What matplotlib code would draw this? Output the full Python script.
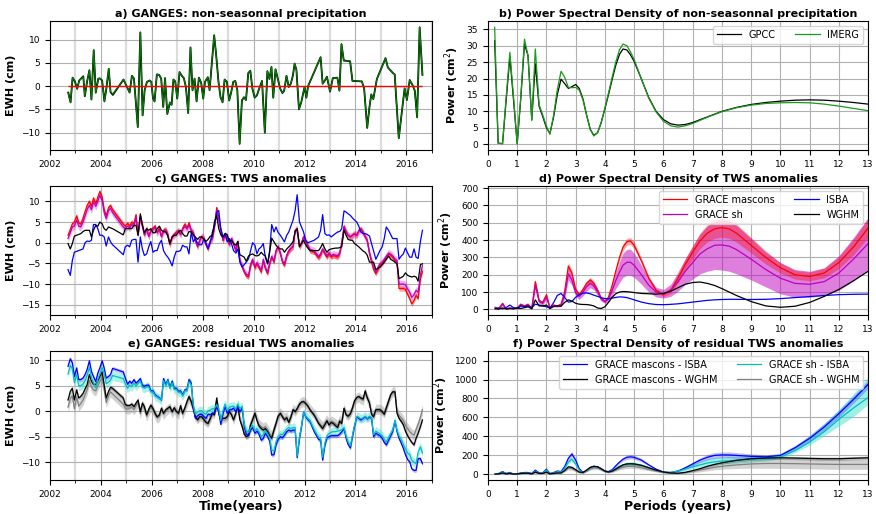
import numpy as np
import matplotlib
matplotlib.use("Agg")
import matplotlib.pyplot as plt
from matplotlib.ticker import MultipleLocator

# ---- monthly precipitation anomalies (cm EWH) ----
t_precip = [2002.72, 2002.81, 2002.89, 2002.98, 2003.07, 2003.15, 2003.31, 2003.37, 2003.46, 2003.55,
            2003.63, 2003.72, 2003.80, 2003.90, 2003.97, 2004.05, 2004.14, 2004.22, 2004.31, 2004.38,
            2004.47, 2004.89, 2005.13, 2005.22, 2005.30, 2005.45, 2005.55, 2005.64, 2005.72, 2005.81,
            2005.92, 2005.98, 2006.05, 2006.11, 2006.20, 2006.29, 2006.37, 2006.45, 2006.52, 2006.61,
            2006.71, 2006.78, 2006.85, 2006.92, 2007.00, 2007.09, 2007.18, 2007.26, 2007.34, 2007.43,
            2007.52, 2007.60, 2007.68, 2007.76, 2007.85, 2007.94, 2008.02, 2008.09, 2008.20, 2008.27,
            2008.45, 2008.53, 2008.62, 2008.70, 2008.78, 2008.86, 2008.95, 2009.04, 2009.12, 2009.20,
            2009.28, 2009.36, 2009.45, 2009.54, 2009.62, 2009.70, 2009.79, 2009.87, 2009.95, 2010.04,
            2010.13, 2010.22, 2010.33, 2010.44, 2010.54, 2010.62, 2010.70, 2010.77, 2010.86, 2010.95,
            2011.04, 2011.13, 2011.20, 2011.29, 2011.38, 2011.46, 2011.54, 2011.61, 2011.68, 2011.78,
            2011.87, 2012.00, 2012.07, 2012.14, 2012.63, 2012.71, 2012.80, 2012.88, 2013.00, 2013.11,
            2013.29, 2013.37, 2013.45, 2013.54, 2013.79, 2013.88, 2014.25, 2014.34, 2014.46, 2014.55,
            2014.62, 2014.70, 2014.84, 2015.18, 2015.27, 2015.47, 2015.54, 2015.70, 2015.93, 2016.02,
            2016.13, 2016.26, 2016.33, 2016.42, 2016.52, 2016.63]
precip_gpcc = [-1.4, -3.5, 1.8, 1.0, -0.6, 1.2, 2.1, -2.2, 1.0, 3.4,
               -2.9, 7.7, -1.4, 1.6, 1.6, 1.2, -3.3, -0.4, 3.7, -1.3,
               -1.9, 1.4, -1.4, 2.2, 1.6, -8.8, 11.5, -6.3, -0.9, 0.9,
               1.2, 0.9, -2.7, -3.3, 2.5, 2.4, 1.6, -4.5, 1.7, -6.0,
               -3.6, -4.0, 1.4, 1.0, -2.7, 3.0, 2.2, 1.7, -0.2, -5.8,
               8.3, -0.9, 1.6, -3.3, 1.8, 0.7, -2.7, 0.9, 1.9, -0.9,
               10.9, 6.6, 0.9, -2.4, -3.5, 1.4, 0.9, -3.1, -1.3, 0.9,
               1.1, -0.9, -12.4, -3.1, -2.4, -3.0, 2.8, 3.3, -0.5, -2.5,
               -2.0, -0.5, 1.1, -10.0, 3.2, 1.5, 4.1, -2.5, 3.6, 1.5,
               -0.5, -1.5, -1.0, 2.2, -0.2, 0.5, 2.2, 4.8, 3.5, -5.0,
               -3.5, -0.2, -2.5, 0.0, 6.2, 0.5, 1.2, 2.0, -1.2, 1.7,
               1.8, -1.0, 9.0, 5.5, 5.3, 1.1, 1.0, -0.5, -9.0, -4.5,
               -1.8, -2.8, 1.5, 6.0, 4.0, 2.8, 2.5, -11.2, -0.5, -3.0,
               1.3, 0.0, -1.0, -6.7, 12.6, 2.4]
precip_imerg = [-1.5, -3.5, 1.8, 1.1, -0.6, 1.2, 2.0, -2.2, 1.0, 3.4,
                -2.9, 7.8, -1.5, 1.6, 1.7, 1.2, -3.3, -0.4, 3.8, -1.2,
                -1.7, 1.4, -1.4, 2.2, 1.6, -8.9, 11.6, -6.3, -0.9, 0.9,
                1.2, 0.9, -2.7, -3.4, 2.5, 2.4, 1.6, -4.5, 1.7, -6.0,
                -3.4, -4.1, 1.4, 1.0, -2.7, 3.0, 2.2, 1.7, -0.2, -5.9,
                8.3, -0.9, 1.6, -3.3, 1.8, 0.7, -2.7, 0.9, 1.9, -0.9,
                11.0, 6.6, 0.9, -2.4, -3.5, 1.4, 0.9, -3.1, -1.3, 0.9,
                1.1, -0.9, -12.5, -3.0, -2.4, -3.0, 2.8, 3.3, -0.5, -2.5,
                -2.0, -0.5, 1.1, -10.1, 3.2, 1.5, 4.1, -2.5, 3.6, 1.5,
                -0.5, -1.5, -1.0, 2.2, -0.2, 0.5, 2.2, 4.9, 3.5, -5.0,
                -3.5, -0.2, -2.5, 0.0, 6.2, 0.5, 1.2, 2.0, -1.2, 1.7,
                1.8, -1.0, 9.1, 5.4, 5.4, 1.1, 1.0, -0.5, -9.0, -4.4,
                -1.8, -2.8, 1.5, 6.0, 4.0, 2.8, 2.5, -11.3, -0.5, -3.0,
                1.3, 0.0, -1.0, -6.8, 12.7, 2.4]

# ---- GRACE months used for TWS series ----
t_grace = [2002.71, 2002.80, 2002.88, 2002.96, 2003.05, 2003.13, 2003.21, 2003.30, 2003.38, 2003.46,
           2003.55, 2003.63, 2003.71, 2003.80, 2003.88, 2003.96, 2004.05, 2004.13, 2004.21, 2004.30,
           2004.38, 2004.46, 2004.88, 2004.96, 2005.05, 2005.13, 2005.21, 2005.30, 2005.38, 2005.46,
           2005.55, 2005.63, 2005.71, 2005.80, 2005.88, 2005.96, 2006.05, 2006.13, 2006.21, 2006.30,
           2006.38, 2006.46, 2006.55, 2006.63, 2006.71, 2006.80, 2006.88, 2006.96, 2007.05, 2007.13,
           2007.21, 2007.30, 2007.38, 2007.46, 2007.55, 2007.63, 2007.71, 2007.80, 2007.88, 2007.96,
           2008.05, 2008.13, 2008.21, 2008.30, 2008.38, 2008.46, 2008.55, 2008.63, 2008.71, 2008.80,
           2008.88, 2008.96, 2009.05, 2009.13, 2009.21, 2009.30, 2009.38, 2009.46, 2009.55, 2009.63,
           2009.71, 2009.80, 2009.88, 2009.96, 2010.05, 2010.13, 2010.21, 2010.30, 2010.38, 2010.46,
           2010.55, 2010.63, 2010.71, 2010.80, 2010.88, 2010.96, 2011.05, 2011.13, 2011.21, 2011.30,
           2011.38, 2011.46, 2011.55, 2011.63, 2011.71, 2011.80, 2011.88, 2011.96, 2012.05, 2012.13,
           2012.21, 2012.38, 2012.55, 2012.63, 2012.71, 2012.80, 2012.88, 2012.96, 2013.05, 2013.13,
           2013.21, 2013.30, 2013.38, 2013.46, 2013.55, 2013.63, 2013.71, 2013.80, 2013.88, 2013.96,
           2014.05, 2014.13, 2014.21, 2014.30, 2014.38, 2014.46, 2014.55, 2014.63, 2014.71, 2014.80,
           2014.88, 2014.96, 2015.05, 2015.13, 2015.21, 2015.30, 2015.38, 2015.46, 2015.55, 2015.63,
           2015.71, 2015.80, 2015.88, 2015.96, 2016.05, 2016.13, 2016.21, 2016.30, 2016.38, 2016.46,
           2016.55, 2016.63]

tws_mascons = [1.8, 3.2, 4.6, 5.0, 6.5, 4.8, 4.5, 6.0, 7.5, 9.0,
               10.0, 8.8, 10.8, 9.5, 11.0, 12.4, 11.0, 8.0, 6.5, 8.5,
               9.0, 8.0, 4.5, 4.0, 4.7, 4.0, 5.0, 4.5, 6.8, 2.0,
               6.5, 4.5, 2.0, 3.5, 1.5, 3.0, 3.5, 4.0, 2.5, 3.5,
               1.5, 3.0, 3.2, 2.0, -0.5, 1.5, 2.0, 2.5, 3.0, 2.0,
               3.5, 4.5, 3.5, 4.8, 3.0, 2.5, 0.5, -1.0, 0.5, 1.5,
               1.0, -0.5, -1.5, 0.5, 1.0, 4.0, 8.5, 6.0, 3.0, 0.5,
               2.0, 1.0, -0.5, 1.0, -0.2, -2.0, 0.3, -4.5, -5.9, -7.1,
               -8.0, -8.3, -5.5, -4.3, -6.1, -5.1, -6.0, -7.1, -4.3, -6.3,
               -7.5, -5.1, -3.5, -4.7, -2.0, -1.0, -2.7, -4.7, -5.5, -3.2,
               -2.1, -1.5, -1.0, 3.0, 3.4, -1.0, -0.2, 1.4, 0.2, -0.8,
               -1.9, -2.3, -3.7, -3.0, -1.7, -2.7, -3.5, -2.7, -3.5, -3.1,
               -3.3, -3.5, -2.7, -0.2, 4.0, 2.7, 1.8, 1.4, 1.8, 2.2,
               1.8, 3.0, 3.4, 2.6, 1.5, 0.6, -2.7, -4.7, -6.5, -7.5,
               -6.5, -5.5, -5.0, -4.3, -3.5, -2.7, -3.0, -3.5, -4.3, -4.7,
               -11.1, -11.1, -11.1, -11.3, -12.5, -13.5, -14.8, -14.0, -12.7, -13.5,
               -8.7, -6.9]
tws_sh = [1.0, 2.5, 3.8, 4.0, 5.5, 4.0, 3.8, 5.0, 6.5, 8.0,
          9.0, 8.0, 9.8, 8.8, 10.0, 11.5, 10.2, 7.2, 5.8, 7.8,
          8.3, 7.3, 3.8, 3.4, 4.0, 3.5, 4.4, 4.0, 6.2, 1.8,
          6.0, 4.0, 1.8, 3.2, 1.5, 2.8, 3.2, 3.7, 2.4, 3.2,
          1.4, 2.8, 3.0, 1.9, -0.4, 1.4, 1.9, 2.4, 2.8, 2.0,
          3.2, 4.0, 3.3, 4.3, 2.8, 2.4, 0.5, -0.8, 0.6, 1.5,
          1.0, -0.4, -1.3, 0.5, 1.0, 3.8, 7.8, 5.8, 3.0, 0.6,
          2.0, 1.0, -0.4, 1.0, -0.2, -1.8, 0.3, -4.2, -5.6, -6.8,
          -7.6, -7.9, -5.2, -4.0, -5.8, -4.8, -5.7, -6.7, -4.0, -6.0,
          -7.1, -4.8, -3.3, -4.4, -1.8, -0.9, -2.5, -4.4, -5.1, -3.0,
          -1.9, -1.3, -0.8, 3.0, 3.3, -0.8, -0.1, 1.4, 0.3, -0.6,
          -1.6, -2.0, -3.3, -2.7, -1.5, -2.4, -3.1, -2.4, -3.1, -2.8,
          -3.0, -3.1, -2.4, 0.0, 3.8, 2.6, 1.8, 1.4, 1.8, 2.1,
          1.8, 2.8, 3.1, 2.4, 1.4, 0.6, -2.4, -4.2, -5.9, -7.0,
          -6.0, -5.1, -4.7, -4.0, -3.3, -2.5, -2.8, -3.2, -3.9, -4.3,
          -10.0, -10.0, -10.0, -10.2, -11.2, -12.0, -13.2, -12.6, -11.5, -12.0,
          -7.8, -5.5]
tws_isba = [-6.5, -7.9, -4.3, -2.3, -2.1, -1.9, -1.7, -1.5, 0.0, 0.4,
            0.3, 0.6, 4.4, 4.4, 3.4, 1.8, 1.8, 1.4, -0.8, 1.4,
            0.2, -0.5, -2.9, -1.0, -0.6, -1.0, 0.6, 0.8, 0.8, -4.7,
            1.4, -1.5, -3.1, -2.7, -1.0, 0.3, -2.3, -1.9, -1.9, -0.2,
            0.6, -1.9, -2.9, -3.5, -4.3, -5.6, -3.5, -2.1, -2.1, -1.9,
            -0.6, -1.0, -1.0, -2.7, 2.6, 0.2, 1.0, -0.2, -0.5, -0.5,
            1.0, -0.2, -1.5, 0.2, 2.6, 4.0, 7.4, 7.8, 3.4, 1.4,
            2.2, 0.2, 1.0, -0.2, -1.9, -2.5, -1.5, -4.7, -5.9, -5.3,
            -4.7, -3.9, -2.0, 0.0, -0.6, -2.7, -1.5, -1.0, -0.2, -3.5,
            -5.1, -1.9, 4.4, 2.6, 3.8, 2.5, 1.8, 1.0, 0.2, 1.8,
            2.6, 4.0, 5.5, 7.8, 11.6, 5.0, 3.8, 2.6, 0.5, 0.0,
            0.2, 0.6, 1.4, 3.0, 6.8, 2.2, 1.8, 1.9, 1.4, 1.8,
            2.2, 2.6, 2.7, 3.4, 7.7, 7.4, 7.0, 6.6, 6.0, 5.5,
            5.0, 4.0, 2.6, 2.2, 2.2, 2.0, 1.6, -0.2, -2.0, -4.0,
            -3.0, -1.9, -1.0, 1.0, 3.8, 3.0, 2.0, 1.0, 1.0, 1.0,
            -4.0, -3.2, -2.7, -1.3, -2.5, -3.5, -3.5, -1.5, -3.5, -3.8,
            0.3, 3.0]
tws_wghm = [-0.2, -1.5, -0.2, 1.6, 1.8, 2.0, 2.2, 2.7, 3.0, 3.0,
            3.0, 1.4, 3.0, 4.2, 4.0, 5.0, 4.6, 3.4, 3.0, 3.8,
            3.6, 3.4, 1.9, 3.4, 3.4, 3.4, 3.4, 4.2, 4.2, 1.8,
            7.0, 4.2, 2.4, 3.4, 3.0, 3.4, 2.4, 2.4, 3.4, 4.0,
            3.0, 2.7, 2.6, 1.6, -0.2, 1.4, 1.8, 1.8, 2.6, 3.0,
            2.2, 1.6, 1.6, 2.7, 2.6, 1.9, 1.4, 0.8, 1.4, 1.4,
            0.8, 0.3, 0.8, 1.6, 1.6, 5.0, 6.6, 3.4, 1.9, 1.4,
            2.2, 2.0, 0.3, 0.6, -0.2, -0.6, 0.3, -2.9, -3.2, -3.5,
            -4.5, -3.2, -2.9, -2.7, -3.1, -3.2, -3.0, -2.3, -2.9, -3.2,
            -5.1, -2.3, 1.1, 0.2, -0.6, -1.2, -1.5, -1.5, -2.3, -1.5,
            -1.0, -0.5, 0.3, 2.7, 3.4, -1.0, -0.2, 0.6, -0.6, -1.3,
            -1.9, -1.9, -1.9, -1.2, -0.2, -1.5, -2.3, -1.7, -1.5, -1.4,
            -1.3, -1.3, -1.2, -1.0, 3.1, 1.8, 0.8, 0.6, 0.6, -0.2,
            -0.6, -1.0, -1.5, -2.0, -2.3, -3.0, -4.7, -4.7, -4.7, -6.5,
            -6.2, -5.9, -5.3, -4.7, -4.0, -3.2, -4.0, -4.3, -4.7, -5.1,
            -8.7, -8.4, -8.1, -7.3, -7.9, -8.1, -8.3, -8.1, -8.3, -9.3,
            -5.3, -5.1]
tws_mascons_sigma = 0.6
tws_sh_sigma = 0.9

# residual TWS (GRACE minus model)
res_mascons_isba = [8.8, 10.3, 9.5, 6.8, 8.5, 6.2, 6.2, 6.5, 7.2, 8.2,
                    9.9, 7.8, 6.8, 5.8, 7.5, 8.5, 9.9, 8.5, 6.5, 6.8,
                    7.2, 8.4, 7.7, 6.5, 5.3, 5.9, 5.5, 6.2, 5.5, 5.9,
                    6.4, 5.1, 4.9, 5.1, 5.1, 4.0, 4.0, 3.2, 2.9, 2.6,
                    2.2, 6.4, 5.2, 6.2, 4.7, 5.9, 4.5, 4.5, 3.9, 4.0,
                    3.2, 4.2, 4.2, 6.2, 5.5, 0.9, -1.4, -0.9, -0.6, -0.6,
                    -1.1, -1.4, -0.6, -0.7, -0.4, -0.4, 0.9, -0.1, -2.6, -0.4,
                    0.9, -0.4, 0.3, 0.3, 0.6, -0.1, 0.9, -0.1, 0.6, -3.0,
                    -4.5, -4.8, -3.7, -3.2, -4.3, -3.9, -4.5, -5.7, -5.3, -4.3,
                    -5.0, -5.9, -8.6, -8.5, -6.6, -5.5, -5.0, -5.2, -4.7, -4.0,
                    -3.7, -3.9, -3.7, -3.7, -9.1, -5.3, -3.0, -0.2, -1.1, -1.6,
                    -2.0, -4.0, -5.5, -5.7, -9.6, -6.6, -5.2, -5.0, -4.8, -4.8,
                    -4.8, -4.8, -4.5, -4.0, -3.4, -5.3, -6.5, -7.2, -5.0, -3.0,
                    -1.1, -1.4, -1.7, -1.4, -1.1, -1.5, -1.1, -1.4, -5.0, -4.3,
                    -4.6, -4.8, -5.3, -6.1, -6.6, -5.7, -4.8, -4.0, -1.9, -4.0,
                    -5.3, -6.3, -7.3, -8.5, -9.5, -9.9, -11.3, -11.6, -11.6, -9.3,
                    -9.3, -10.3]
res_sh_isba = [7.3, 9.0, 8.3, 5.6, 7.2, 5.0, 5.0, 5.3, 6.0, 7.0,
               8.6, 6.6, 5.6, 4.6, 6.3, 7.3, 8.6, 7.3, 5.4, 5.7,
               6.1, 7.0, 6.4, 5.4, 4.5, 5.1, 4.8, 5.5, 4.9, 5.4,
               5.9, 4.7, 4.5, 4.8, 4.8, 3.8, 3.8, 3.0, 2.8, 2.5,
               2.2, 6.0, 5.0, 6.0, 4.5, 5.6, 4.3, 4.3, 3.7, 3.8,
               3.0, 4.0, 4.0, 5.8, 5.2, 1.2, -0.6, -0.2, 0.1, 0.1,
               -0.4, -0.6, 0.1, 0.2, 0.5, 0.5, 1.3, 0.5, -1.8, 0.3,
               1.4, 0.2, 0.8, 0.9, 1.0, 0.5, 1.4, 0.5, 1.0, -2.5,
               -3.8, -4.2, -3.2, -2.8, -3.8, -3.4, -4.0, -5.0, -4.6, -3.8,
               -4.4, -5.2, -7.6, -7.8, -6.0, -5.0, -4.5, -4.6, -4.1, -3.5,
               -3.2, -3.4, -3.2, -3.2, -8.8, -5.0, -2.8, -0.3, -1.0, -1.4,
               -1.8, -3.6, -5.1, -5.3, -9.0, -6.2, -4.8, -4.4, -4.1, -4.0,
               -4.0, -3.9, -3.8, -3.6, -3.2, -4.8, -6.0, -6.8, -4.7, -2.8,
               -1.0, -1.2, -1.5, -1.3, -1.0, -1.4, -1.0, -1.3, -4.6, -3.9,
               -4.2, -4.4, -4.8, -5.5, -6.0, -5.2, -4.4, -3.7, -1.8, -3.7,
               -4.8, -5.6, -6.5, -7.4, -8.2, -8.5, -9.6, -10.0, -10.3, -8.0,
               -7.0, -8.2]
res_mascons_wghm = [2.2, 3.9, 4.5, 2.2, 4.2, 2.6, 2.9, 3.5, 4.4, 5.2,
                    7.2, 5.9, 5.3, 5.2, 6.0, 6.8, 7.7, 5.2, 2.6, 3.9,
                    4.7, 4.5, 2.6, 1.3, 1.1, 1.1, 1.4, 0.9, 1.6, 2.2,
                    -0.1, 1.6, 0.9, -0.7, 0.4, 1.2, 0.5, -0.4, -1.1, -0.7,
                    0.6, -0.4, 0.3, 0.6, 0.9, -0.1, 0.7, 0.0, -0.4, 1.1,
                    -0.4, 0.7, 1.9, 2.9, 1.9, 0.5, -1.1, -1.7, -1.1, -1.1,
                    -1.7, -2.2, -2.4, -1.4, -0.4, -0.7, 2.6, -0.4, -1.7, -1.4,
                    -1.4, -1.1, -0.1, -0.7, -1.7, -0.4, 1.1, -1.7, -3.0, -4.5,
                    -5.0, -4.7, -2.7, -1.7, -0.4, -1.8, -2.9, -3.4, -3.7, -3.4,
                    -4.0, -4.8, -5.3, -3.7, -2.4, -1.0, -0.4, -1.1, -1.7, -1.3,
                    -2.2, -1.2, 0.3, -0.1, 0.5, 1.4, 1.8, 1.9, 1.5, 1.0,
                    0.3, -0.8, -2.4, -2.9, -3.4, -2.6, -1.9, -2.7, -2.2, -2.4,
                    -2.8, -3.2, -2.0, -2.4, 0.6, -0.7, -1.0, -0.5, 0.6, 2.0,
                    2.7, 2.9, 2.6, 2.4, 4.0, 2.7, 1.6, -0.6, -1.1, 0.3,
                    0.3, 0.3, -0.1, -0.6, 0.6, 2.0, 3.2, 3.8, 3.8, -0.4,
                    -1.4, -2.0, -2.7, -3.9, -4.8, -5.5, -6.1, -6.6, -5.3, -4.3,
                    -3.0, -1.7]
res_sh_wghm = [0.8, 2.5, 3.0, 0.5, 2.8, 1.0, 1.5, 2.2, 3.2, 4.2,
               6.0, 4.8, 4.2, 4.0, 5.0, 5.8, 6.6, 4.2, 1.7, 3.0,
               3.8, 3.4, 1.4, 0.6, 0.4, 0.5, 0.8, 0.3, 1.0, 1.7,
               -0.5, 1.2, 0.5, -1.0, 0.0, 0.8, 0.2, -0.7, -1.3, -1.0,
               0.3, -0.6, 0.0, 0.4, 0.7, -0.3, 0.5, -0.2, -0.6, 0.9,
               -0.6, 0.5, 1.6, 2.6, 1.7, 0.4, -1.0, -1.5, -1.0, -1.0,
               -1.6, -2.0, -2.2, -1.3, -0.3, -0.5, 2.2, -0.3, -1.6, -1.3,
               -1.3, -1.0, 0.0, -0.6, -1.6, -0.3, 1.1, -1.5, -2.8, -4.2,
               -4.6, -4.4, -2.4, -1.5, -0.2, -1.6, -2.6, -3.0, -3.3, -3.0,
               -3.6, -4.4, -4.9, -3.4, -2.2, -0.9, -0.3, -0.9, -1.4, -1.1,
               -2.0, -1.0, 0.4, 0.0, 0.6, 1.4, 1.8, 1.9, 1.5, 1.0,
               0.4, -0.6, -2.1, -2.6, -3.0, -2.3, -1.7, -2.4, -1.9, -2.1,
               -2.4, -2.8, -1.7, -2.1, 0.5, -0.6, -0.8, -0.3, 0.7, 2.0,
               2.6, 2.8, 2.4, 2.2, 3.7, 2.5, 1.6, -0.3, -0.8, 0.4,
               0.4, 0.4, 0.1, -0.3, 0.8, 2.1, 3.2, 3.8, 3.8, 0.0,
               -0.8, -1.3, -1.8, -2.8, -3.4, -4.0, -4.4, -4.7, -3.6, -2.6,
               -1.2, 0.3]
res_mascons_isba_sigma = 0.4
res_sh_isba_sigma = 0.9
res_mascons_wghm_sigma = 0.4
res_sh_wghm_sigma = 1.0

# ---- power spectra ----
period_precip = [0.23, 0.35, 0.5, 0.62, 0.75, 0.87, 1.0, 1.12, 1.25, 1.37,
                 1.5, 1.62, 1.75, 1.87, 2.0, 2.12, 2.25, 2.37, 2.5, 2.62,
                 2.75, 2.87, 3.0, 3.12, 3.25, 3.37, 3.5, 3.62, 3.75, 3.87,
                 4.0, 4.12, 4.25, 4.37, 4.5, 4.62, 4.75, 4.87, 5.0, 5.25,
                 5.5, 5.75, 6.0, 6.25, 6.5, 6.75, 7.0, 7.5, 8.0, 8.5,
                 9.0, 9.5, 10.0, 10.5, 11.0, 11.5, 12.0, 12.5, 13.0]
psd_gpcc = [31.5, 0.3, 0.2, 13.0, 26.5, 14.0, 0.2, 13.5, 30.5, 27.0,
            7.5, 24.5, 11.5, 8.5, 5.0, 3.3, 8.5, 15.0, 19.8, 18.5,
            17.0, 17.5, 18.2, 17.0, 13.8, 9.0, 4.5, 2.7, 3.5, 6.5,
            10.8, 15.0, 19.8, 24.0, 27.4, 29.0, 28.7, 27.3, 25.2, 19.8,
            14.2, 10.0, 7.5, 6.2, 5.8, 6.0, 6.6, 8.3, 10.0, 11.2,
            12.1, 12.7, 13.1, 13.4, 13.5, 13.4, 13.1, 12.7, 12.2]
psd_imerg = [35.6, 0.3, 0.1, 14.0, 28.0, 15.0, 0.0, 14.0, 32.0, 27.0,
             7.2, 29.0, 12.0, 9.0, 5.5, 3.0, 9.0, 16.5, 22.2, 20.5,
             17.3, 17.2, 17.3, 16.5, 13.5, 9.0, 4.5, 2.5, 3.5, 6.5,
             11.0, 15.5, 20.5, 25.0, 28.8, 30.5, 30.0, 28.2, 25.8, 19.8,
             14.0, 9.8, 7.0, 5.6, 5.2, 5.6, 6.3, 8.2, 9.9, 11.1,
             11.9, 12.4, 12.6, 12.7, 12.6, 12.2, 11.6, 10.9, 10.2]

period_tws = [0.25, 0.37, 0.5, 0.62, 0.75, 0.87, 1.0, 1.12, 1.25, 1.37,
              1.5, 1.62, 1.75, 1.87, 2.0, 2.12, 2.25, 2.37, 2.5, 2.62,
              2.75, 2.87, 3.0, 3.12, 3.25, 3.37, 3.5, 3.62, 3.75, 3.87,
              4.0, 4.12, 4.25, 4.37, 4.5, 4.62, 4.75, 4.87, 5.0, 5.25,
              5.5, 5.75, 6.0, 6.25, 6.5, 6.75, 7.0, 7.25, 7.5, 7.75,
              8.0, 8.25, 8.5, 9.0, 9.5, 10.0, 10.5, 11.0, 11.5, 12.0,
              12.5, 13.0]
psd_mascons = [12, 3, 35, 3, 8, 5, 8, 30, 20, 30,
               5, 160, 50, 40, 85, 10, 25, 20, 30, 100,
               250, 210, 115, 85, 115, 150, 170, 150, 110, 65,
               45, 70, 140, 220, 300, 360, 390, 395, 370, 280,
               180, 110, 85, 110, 180, 260, 330, 395, 440, 465,
               472, 465, 440, 370, 300, 240, 200, 190, 210, 270,
               360, 470]
psd_mascons_err = [3, 2, 5, 2, 3, 2, 3, 5, 4, 5,
                   2, 15, 8, 6, 10, 3, 5, 4, 5, 12,
                   20, 18, 12, 10, 12, 15, 15, 14, 12, 8,
                   6, 8, 12, 15, 18, 20, 20, 20, 20, 16,
                   12, 10, 12, 18, 25, 32, 38, 45, 50, 55,
                   55, 55, 52, 45, 38, 30, 25, 25, 28, 35,
                   45, 55]
psd_sh = [10, 3, 30, 3, 7, 5, 8, 25, 18, 25,
          5, 140, 45, 35, 70, 8, 20, 18, 25, 80,
          205, 170, 95, 75, 100, 130, 150, 135, 100, 60,
          45, 60, 110, 165, 215, 255, 272, 272, 255, 200,
          140, 100, 90, 110, 160, 220, 270, 320, 350, 370,
          372, 365, 345, 290, 230, 180, 150, 145, 160, 210,
          290, 380]
psd_sh_err = [3, 2, 8, 2, 3, 2, 3, 8, 6, 8,
              2, 25, 12, 10, 15, 3, 6, 5, 8, 20,
              35, 30, 20, 18, 22, 25, 25, 22, 18, 12,
              10, 15, 30, 45, 60, 70, 75, 75, 70, 55,
              40, 28, 25, 35, 55, 75, 95, 115, 130, 140,
              145, 145, 140, 120, 100, 90, 80, 75, 80, 100,
              125, 150]
psd_isba = [5, 8, 3, 10, 25, 10, 5, 20, 15, 20,
            10, 30, 25, 20, 15, 8, 40, 80, 92, 70,
            42, 45, 70, 85, 93, 95, 90, 82, 75, 68,
            62, 62, 65, 69, 72, 71, 68, 62, 55, 42,
            33, 28, 27, 29, 32, 37, 42, 47, 52, 55,
            57, 58, 58, 57, 58, 62, 68, 74, 80, 85,
            87, 88]
psd_wghm = [3, 2, 8, 3, 5, 3, 8, 5, 10, 15,
            3, 55, 20, 20, 25, 5, 18, 20, 18, 40,
            55, 48, 35, 30, 28, 28, 25, 20, 8, 5,
            15, 40, 70, 90, 100, 103, 102, 100, 97, 92,
            90, 88, 92, 105, 125, 145, 155, 158, 150, 138,
            120, 100, 80, 45, 20, 12, 18, 40, 75, 115,
            165, 220]

psd_res_mascons_isba = [5, 10, 30, 10, 20, 5, 5, 15, 20, 20,
                        10, 45, 15, 15, 55, 10, 20, 35, 30, 80,
                        170, 215, 150, 60, 20, 40, 70, 85, 80, 60,
                        35, 30, 50, 90, 130, 160, 180, 185, 180, 150,
                        100, 55, 25, 20, 35, 70, 110, 150, 180, 200,
                        205, 205, 200, 190, 185, 200, 280, 380, 500, 640,
                        790, 950]
psd_res_mascons_isba_err = [2, 2, 4, 2, 3, 2, 2, 3, 3, 3,
                            2, 6, 3, 3, 6, 2, 3, 5, 4, 10,
                            20, 25, 18, 8, 4, 6, 10, 12, 12, 8,
                            6, 5, 8, 12, 16, 20, 22, 22, 22, 18,
                            12, 8, 5, 5, 8, 12, 18, 24, 28, 30,
                            32, 32, 30, 25, 20, 20, 25, 30, 35, 38,
                            40, 42]
psd_res_sh_isba = [5, 8, 25, 8, 15, 5, 5, 12, 15, 15,
                   8, 35, 12, 12, 45, 8, 15, 28, 25, 60,
                   130, 160, 110, 45, 15, 35, 60, 75, 72, 55,
                   30, 25, 40, 65, 85, 100, 110, 113, 110, 95,
                   70, 40, 22, 22, 35, 55, 80, 100, 120, 132,
                   140, 145, 150, 158, 165, 185, 250, 340, 450, 580,
                   700, 810]
psd_res_sh_isba_lo = [3, 6, 20, 6, 12, 3, 3, 9, 12, 12,
                      6, 28, 9, 9, 38, 6, 12, 22, 20, 50,
                      110, 135, 92, 37, 11, 29, 50, 63, 60, 46,
                      24, 20, 32, 52, 70, 82, 90, 92, 90, 78,
                      58, 32, 16, 14, 25, 40, 60, 78, 92, 102,
                      108, 112, 118, 128, 140, 165, 230, 310, 410, 510,
                      610, 740]
psd_res_sh_isba_hi = [7, 10, 30, 10, 18, 7, 7, 15, 18, 18,
                      10, 42, 15, 15, 52, 10, 18, 34, 30, 70,
                      150, 185, 128, 53, 19, 41, 70, 87, 84, 64,
                      36, 30, 48, 78, 100, 118, 130, 134, 130, 112,
                      82, 48, 28, 32, 50, 75, 110, 140, 165, 180,
                      185, 188, 190, 195, 200, 220, 300, 410, 540, 685,
                      850, 1025]
psd_res_mascons_wghm = [3, 5, 15, 5, 10, 3, 5, 10, 12, 12,
                        5, 25, 10, 10, 25, 5, 10, 15, 15, 40,
                        80, 75, 50, 25, 20, 45, 75, 85, 80, 60,
                        35, 25, 35, 55, 80, 100, 110, 112, 110, 95,
                        70, 45, 25, 15, 12, 22, 40, 60, 85, 105,
                        122, 135, 148, 165, 172, 175, 172, 168, 165, 165,
                        170, 175]
psd_res_mascons_wghm_err = [1, 1, 3, 1, 2, 1, 1, 2, 2, 2,
                            1, 4, 2, 2, 4, 1, 2, 3, 3, 6,
                            10, 9, 7, 4, 3, 6, 9, 10, 10, 7,
                            5, 4, 5, 7, 10, 12, 13, 13, 13, 11,
                            8, 6, 4, 3, 3, 4, 6, 8, 10, 12,
                            13, 14, 15, 16, 17, 17, 17, 17, 17, 17,
                            17, 18]
psd_res_sh_wghm = [3, 4, 12, 4, 8, 3, 4, 8, 10, 10,
                   4, 20, 8, 8, 20, 4, 8, 12, 12, 35,
                   65, 60, 40, 20, 15, 35, 60, 70, 68, 50,
                   30, 20, 28, 45, 62, 75, 83, 85, 83, 70,
                   52, 35, 20, 12, 10, 17, 30, 45, 60, 75,
                   85, 93, 100, 110, 115, 115, 113, 110, 107, 105,
                   105, 105]
psd_res_sh_wghm_err = [2, 2, 4, 2, 3, 2, 2, 3, 3, 3,
                       2, 6, 3, 3, 6, 2, 3, 4, 4, 10,
                       18, 16, 12, 6, 5, 10, 15, 18, 17, 13,
                       8, 6, 8, 12, 16, 20, 22, 22, 22, 18,
                       14, 10, 6, 5, 5, 8, 12, 18, 22, 27,
                       30, 34, 38, 45, 50, 52, 52, 52, 52, 52,
                       52, 52]

plt.rcParams['font.family'] = 'DejaVu Sans'
TITLE_FS = 8
LABEL_FS = 8
TICK_FS = 6.5
LEG_FS = 7
LW = 0.9

fig = plt.figure(figsize=(8.76, 5.14), dpi=100)
bottoms = [0.708, 0.387, 0.066]
ax_a = fig.add_axes([0.057, bottoms[0], 0.436, 0.251])
ax_b = fig.add_axes([0.557, bottoms[0], 0.434, 0.251])
ax_c = fig.add_axes([0.057, bottoms[1], 0.436, 0.251])
ax_d = fig.add_axes([0.557, bottoms[1], 0.434, 0.251])
ax_e = fig.add_axes([0.057, bottoms[2], 0.436, 0.251])
ax_f = fig.add_axes([0.557, bottoms[2], 0.434, 0.251])


def time_axis(ax, title):
    ax.set_xlim(2002, 2017)
    ax.xaxis.set_major_locator(MultipleLocator(2))
    ax.xaxis.set_minor_locator(MultipleLocator(1))
    ax.grid(True, which='major', color='#b0b0b0', lw=0.8)
    ax.grid(True, which='minor', axis='x', color='#dcdcdc', lw=1.6)
    ax.set_axisbelow(True)
    ax.tick_params(labelsize=TICK_FS)
    ax.set_ylabel('EWH (cm)', fontsize=LABEL_FS, fontweight='bold')
    ax.set_title(title, fontsize=TITLE_FS, fontweight='bold', pad=3)


def psd_axis(ax, title, ystep):
    ax.set_xlim(0, 13)
    ax.xaxis.set_major_locator(MultipleLocator(1))
    ax.yaxis.set_major_locator(MultipleLocator(ystep))
    ax.grid(True, color='#b0b0b0', lw=0.8)
    ax.set_axisbelow(True)
    ax.tick_params(labelsize=TICK_FS)
    ax.set_ylabel('Power (cm$^2$)', fontsize=LABEL_FS, fontweight='bold')
    ax.set_title(title, fontsize=TITLE_FS, fontweight='bold', pad=3)


def band(ax, x, y, err, color, alpha):
    y = np.asarray(y, float)
    err = np.asarray(err, float)
    ax.fill_between(x, y - err, y + err, color=color, alpha=alpha, lw=0)


# a) precipitation anomalies
ax_a.plot(t_precip, precip_gpcc, color='k', lw=1.3)
ax_a.plot(t_precip, precip_imerg, color='green', lw=0.8)
ax_a.hlines(0, t_precip[0], t_precip[-1], color='red', lw=1.0, zorder=3)
ax_a.yaxis.set_major_locator(MultipleLocator(5))
time_axis(ax_a, 'a) GANGES: non-seasonnal precipitation')

# b) spectra of precipitation
ax_b.plot(period_precip, psd_gpcc, color='k', lw=LW, label='GPCC')
ax_b.plot(period_precip, psd_imerg, color='#1a9a1a', lw=LW, label='IMERG')
psd_axis(ax_b, 'b) Power Spectral Density of non-seasonnal precipitation', 5)
ax_b.set_ylim(-1.8, 37.5)
ax_b.legend(loc='upper right', ncol=2, fontsize=LEG_FS, handlelength=2.5,
            columnspacing=2.0)

# c) TWS anomalies
band(ax_c, t_grace, tws_sh, tws_sh_sigma, 'm', 0.3)
band(ax_c, t_grace, tws_mascons, tws_mascons_sigma, 'red', 0.35)
ax_c.plot(t_grace, tws_mascons, color='red', lw=LW)
ax_c.plot(t_grace, tws_sh, color='m', lw=LW)
ax_c.plot(t_grace, tws_isba, color='blue', lw=LW)
ax_c.plot(t_grace, tws_wghm, color='k', lw=LW)
ax_c.yaxis.set_major_locator(MultipleLocator(5))
ax_c.set_ylim(-17.5, 13.7)
time_axis(ax_c, 'c) GANGES: TWS anomalies')

# d) spectra of TWS
band(ax_d, period_tws, psd_sh, psd_sh_err, 'm', 0.5)
band(ax_d, period_tws, psd_mascons, psd_mascons_err, 'red', 0.35)
ax_d.plot(period_tws, psd_mascons, color='red', lw=LW, label='GRACE mascons')
ax_d.plot(period_tws, psd_sh, color='m', lw=LW, label='GRACE sh')
ax_d.plot(period_tws, psd_isba, color='blue', lw=LW, label='ISBA')
ax_d.plot(period_tws, psd_wghm, color='k', lw=LW, label='WGHM')
psd_axis(ax_d, 'd) Power Spectral Density of TWS anomalies', 100)
ax_d.set_ylim(-33, 712)
ax_d.legend(loc='upper right', ncol=2, fontsize=LEG_FS, handlelength=2.5,
            columnspacing=2.0)

# e) residual TWS anomalies
band(ax_e, t_grace, res_sh_wghm, res_sh_wghm_sigma, 'grey', 0.35)
band(ax_e, t_grace, res_mascons_wghm, res_mascons_wghm_sigma, 'k', 0.25)
band(ax_e, t_grace, res_sh_isba, res_sh_isba_sigma, 'turquoise', 0.45)
band(ax_e, t_grace, res_mascons_isba, res_mascons_isba_sigma, 'blue', 0.25)
ax_e.plot(t_grace, res_sh_wghm, color='grey', lw=LW)
ax_e.plot(t_grace, res_mascons_wghm, color='k', lw=LW)
ax_e.plot(t_grace, res_mascons_isba, color='blue', lw=LW)
ax_e.plot(t_grace, res_sh_isba, color='c', lw=LW)
ax_e.yaxis.set_major_locator(MultipleLocator(5))
ax_e.set_ylim(-13.5, 11.8)
time_axis(ax_e, 'e) GANGES: residual TWS anomalies')
ax_e.set_xlabel('Time(years)', fontsize=LABEL_FS + 1, fontweight='bold', labelpad=1)

# f) spectra of residuals
ax_f.fill_between(period_tws, psd_res_sh_isba_lo, psd_res_sh_isba_hi,
                  color='turquoise', alpha=0.5, lw=0)
band(ax_f, period_tws, psd_res_mascons_isba, psd_res_mascons_isba_err, 'blue', 0.25)
band(ax_f, period_tws, psd_res_sh_wghm, psd_res_sh_wghm_err, 'grey', 0.35)
band(ax_f, period_tws, psd_res_mascons_wghm, psd_res_mascons_wghm_err, 'k', 0.25)
l1, = ax_f.plot(period_tws, psd_res_mascons_isba, color='blue', lw=LW)
l3, = ax_f.plot(period_tws, psd_res_sh_isba, color='c', lw=LW)
l4, = ax_f.plot(period_tws, psd_res_sh_wghm, color='grey', lw=LW)
l2, = ax_f.plot(period_tws, psd_res_mascons_wghm, color='k', lw=LW)
psd_axis(ax_f, 'f) Power Spectral Density of residual TWS anomalies', 200)
ax_f.set_ylim(-60, 1300)
ax_f.set_xlabel('Periods (years)', fontsize=LABEL_FS + 1, fontweight='bold', labelpad=1)
ax_f.legend([l1, l2, l3, l4],
            ['GRACE mascons - ISBA', 'GRACE mascons - WGHM',
             'GRACE sh - ISBA', 'GRACE sh - WGHM'],
            loc='upper right', ncol=2, fontsize=LEG_FS, handlelength=2.5,
            columnspacing=2.0)

fig.savefig('out.png', dpi=100)
